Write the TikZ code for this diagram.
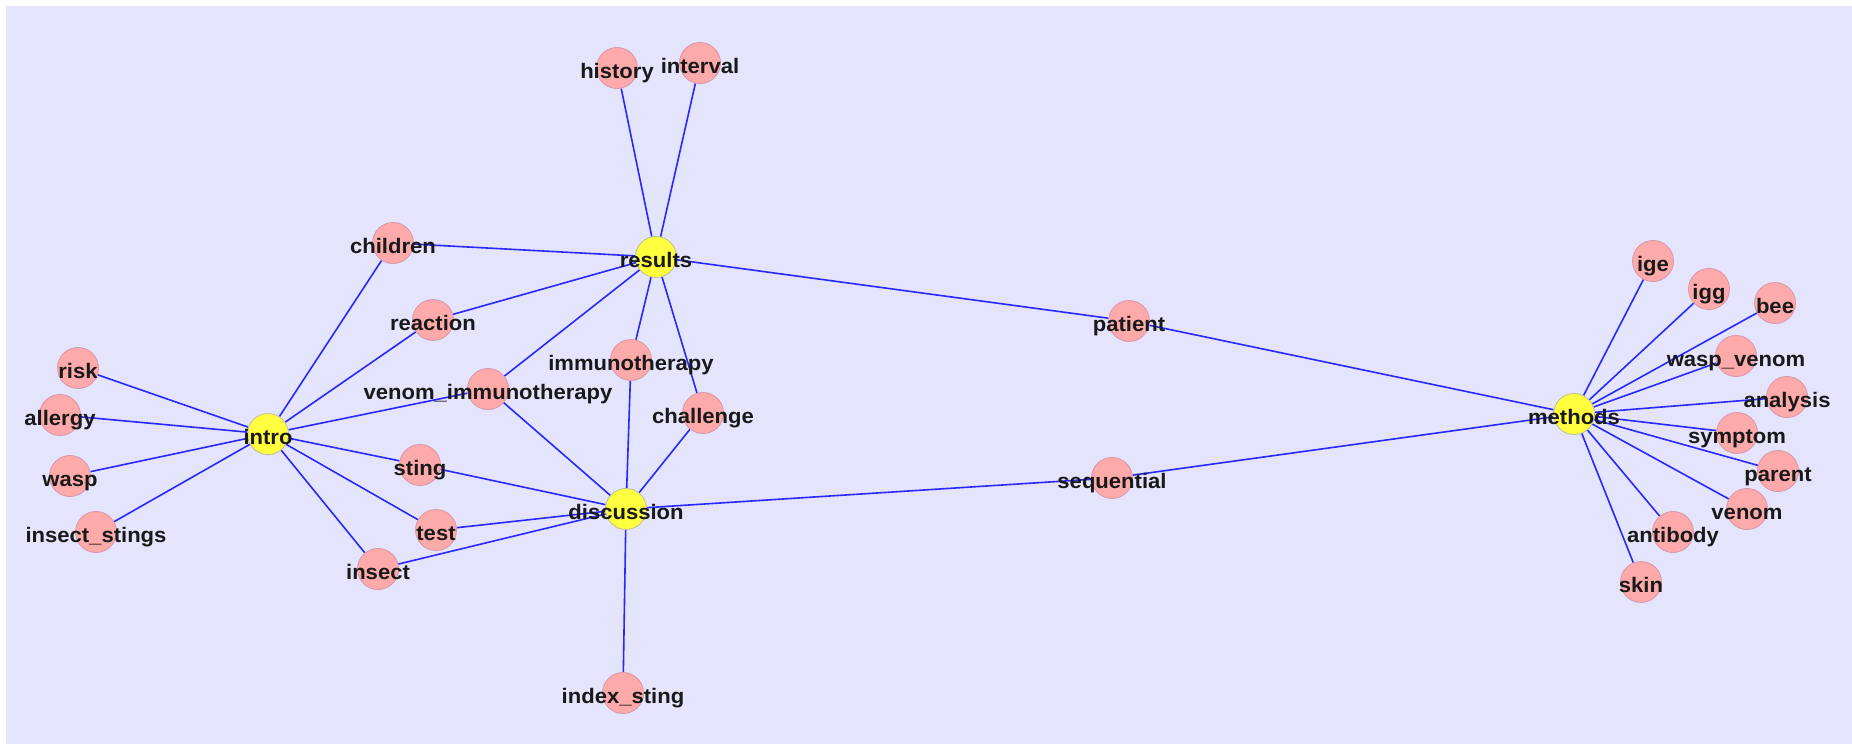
\documentclass[tikz,border=0pt]{standalone}
\usepackage{fontspec}
\usetikzlibrary{calc}
\newfontfamily\lblfont{Liberation Sans}[FakeStretch=1.05]
\definecolor{bgpanel}{RGB}{228,228,252}
\definecolor{edgeblue}{RGB}{40,40,255}
\definecolor{termfill}{RGB}{255,170,170}
\definecolor{termline}{RGB}{215,150,170}
\definecolor{hubfill}{RGB}{255,255,64}
\definecolor{hubline}{RGB}{190,190,150}
\pgfdeclarelayer{back}
\pgfdeclarelayer{edges}
\pgfsetlayers{back,edges,main}
\tikzset{
  term/.style={circle, fill=termfill, draw=termline, line width=0.8pt, minimum size=41pt, inner sep=0pt},
  hub/.style={circle, fill=hubfill, draw=hubline, line width=0.8pt, minimum size=41pt, inner sep=0pt},
  tag/.style={anchor=base, inner sep=0pt, font=\lblfont\bfseries\fontsize{21}{21}\selectfont, text=black!90},
  link/.style={draw=edgeblue, line width=1.6pt}
}
% place a circle node #2 at #3 with its label text #4
\newcommand\vertex[4]{%
  \node[#1] (#2) at #3 {};
  \node[tag] (#2-txt) at ($#3+(0,10)$) {#4};
}
\begin{document}
\begin{tikzpicture}[x=1pt,y=-1pt]
\useasboundingbox (0,0) rectangle (1852,744);
\begin{pgfonlayer}{back}
  \fill[white] (0,0) rectangle (1852,744);
  \fill[bgpanel] (6,6) rectangle (1852,744);
\end{pgfonlayer}

% hubs
\vertex{hub}{results}{(656,257)}{results}
\vertex{hub}{intro}{(268,434)}{intro}
\vertex{hub}{discussion}{(626,509)}{discussion}
\vertex{hub}{methods}{(1574,414)}{methods}

% terms
\vertex{term}{history}{(617,68)}{history}
\vertex{term}{interval}{(700,63)}{interval}
\vertex{term}{patient}{(1129,321)}{patient}
\vertex{term}{children}{(393,243)}{children}
\vertex{term}{reaction}{(433,320)}{reaction}
\vertex{term}{risk}{(78,368)}{risk}
\vertex{term}{allergy}{(60,415)}{allergy}
\vertex{term}{wasp}{(70,476)}{wasp}
\vertex{term}{insectstings}{(96,532)}{insect\_stings}
\vertex{term}{venomimmuno}{(488,389)}{venom\_immunotherapy}
\vertex{term}{immunotherapy}{(631,360)}{immunotherapy}
\vertex{term}{challenge}{(703,413)}{challenge}
\vertex{term}{sting}{(420,465)}{sting}
\vertex{term}{test}{(436,530)}{test}
\vertex{term}{insect}{(378,569)}{insect}
\vertex{term}{indexsting}{(623,693)}{index\_sting}
\vertex{term}{sequential}{(1112,478)}{sequential}
\vertex{term}{ige}{(1653,261)}{ige}
\vertex{term}{igg}{(1709,289)}{igg}
\vertex{term}{bee}{(1775,303)}{bee}
\vertex{term}{waspvenom}{(1736,356)}{wasp\_venom}
\vertex{term}{analysis}{(1787,397)}{analysis}
\vertex{term}{symptom}{(1737,433)}{symptom}
\vertex{term}{parent}{(1778,471)}{parent}
\vertex{term}{venom}{(1747,509)}{venom}
\vertex{term}{antibody}{(1673,532)}{antibody}
\vertex{term}{skin}{(1641,582)}{skin}

\begin{pgfonlayer}{edges}
  % results
  \foreach \t in {history,interval,children,reaction,venomimmuno,immunotherapy,challenge,patient}
    \draw[link] (results) -- (\t);
  % intro
  \foreach \t in {risk,allergy,wasp,insectstings,children,reaction,venomimmuno,sting,test,insect}
    \draw[link] (intro) -- (\t);
  % discussion
  \foreach \t in {venomimmuno,immunotherapy,challenge,sting,test,insect,indexsting,sequential}
    \draw[link] (discussion) -- (\t);
  % methods
  \foreach \t in {ige,igg,bee,waspvenom,analysis,symptom,parent,venom,antibody,skin,patient,sequential}
    \draw[link] (methods) -- (\t);
\end{pgfonlayer}
\end{tikzpicture}
\end{document}
